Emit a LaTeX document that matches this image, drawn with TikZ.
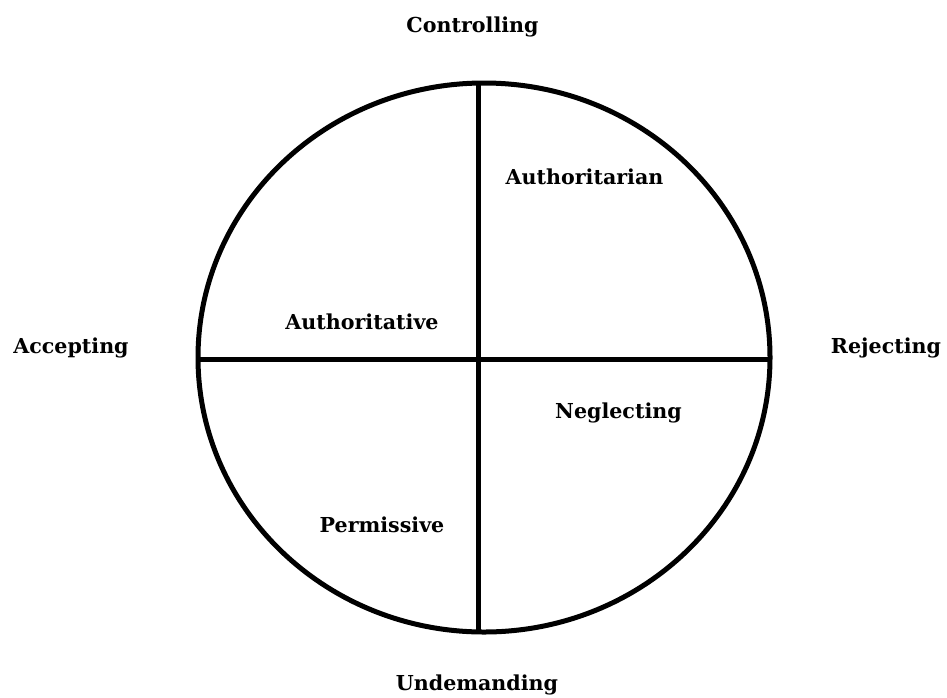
\documentclass[tikz,border=0pt]{standalone}
\usepackage{fontspec}
\setmainfont{DejaVu Serif}
\begin{document}
\begin{tikzpicture}[x=1pt,y=-1pt,
  lbl/.style={anchor=base,inner sep=0pt,font=\fontsize{20.6}{24}\selectfont\bfseries,text=black},
  thick line/.style={line width=5pt,black}]
\useasboundingbox (0,0) rectangle (947,697);
\draw[thick line] (484,357.5) ellipse [x radius=286, y radius=274.5];
\coordinate (top) at (478,83);
\coordinate (bot) at (478,632);
\coordinate (lft) at (198,359);
\coordinate (rgt) at (770,359);
\draw[thick line] (top) -- (bot);
\draw[thick line] (lft) -- (rgt);
\node[lbl] (controlling) at (472.5,32) {Controlling};
\node[lbl] (undemanding) at (477,690.5) {Undemanding};
\node[lbl] (accepting) at (71,353) {Accepting};
\node[lbl] (rejecting) at (886,353) {Rejecting};
\node[lbl] (authoritarian) at (584.5,184) {Authoritarian};
\node[lbl] (authoritative) at (362,329) {Authoritative};
\node[lbl] (neglecting) at (618.5,418) {Neglecting};
\node[lbl] (permissive) at (382,532) {Permissive};
\end{tikzpicture}
\end{document}
